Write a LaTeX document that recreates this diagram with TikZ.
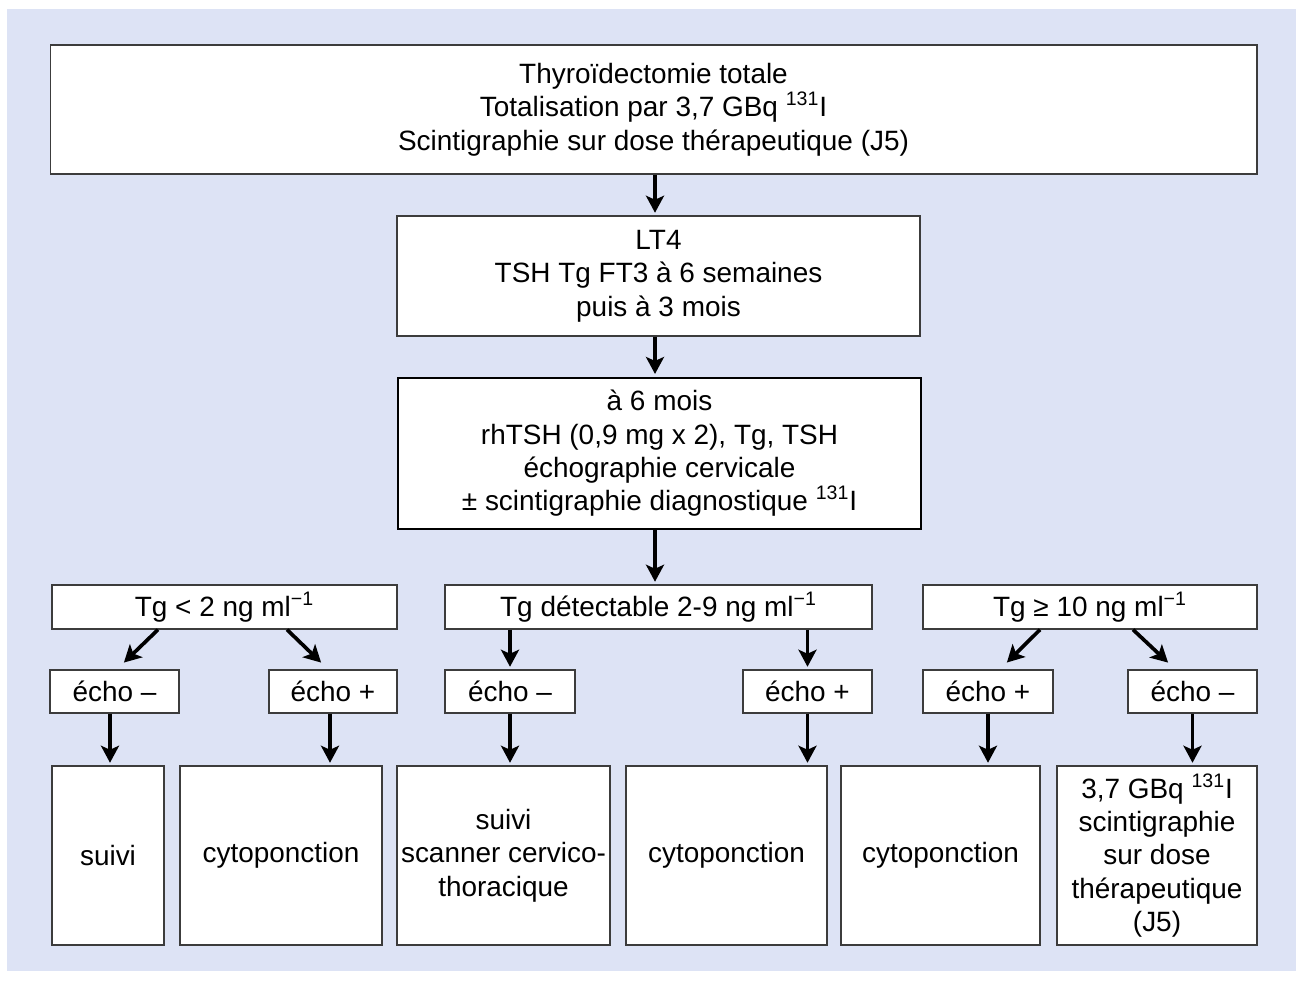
\documentclass[tikz,border=0pt]{standalone}
\usepackage{fontspec}
\setmainfont{Liberation Sans}
\usepackage{xcolor}
\usepackage{tikz}
\usetikzlibrary{arrows.meta, positioning}

\definecolor{bgblue}{RGB}{221,227,245}
\definecolor{edgegray}{RGB}{60,60,60}

\tikzset{
  box/.style={draw=edgegray, line width=0.7pt, fill=white, inner sep=0pt, align=center,
    font=\fontsize{15.9pt}{19pt}\selectfont},
  boldbox/.style={box, draw=black, line width=1.6pt},
  arr/.style={line width=2.1pt, -{Stealth[width=0.36cm, length=0.34cm, inset=0.08cm]}, shorten >=1.5pt}
}

\begin{document}
\begin{tikzpicture}[x=0.02cm, y=-0.02cm]

\useasboundingbox (0,0) rectangle (1304,981);
\fill[bgblue] (7,9) rectangle (1296,971);

% main steps
\node[box, minimum width=24.14cm, minimum height=2.58cm] (chir) at (653.5,109.5)
  {Thyroïdectomie totale\\Totalisation par 3,7 GBq \textsuperscript{131}I\\Scintigraphie sur dose thérapeutique (J5)};
\node[box, minimum width=10.46cm, minimum height=2.4cm] (lt4) at (658.5,276)
  {LT4\\TSH Tg FT3 à 6 semaines\\puis à 3 mois};
\node[boldbox, minimum width=10.46cm, minimum height=3.02cm] (bilan) at (659.5,453.5)
  {à 6 mois\\rhTSH (0,9 mg x 2), Tg, TSH\\échographie cervicale\\± scintigraphie diagnostique \textsuperscript{131}I};

% thyroglobulin levels
\node[box, minimum width=6.9cm, minimum height=0.88cm] (tgbas) at (224.5,607) {Tg < 2 ng ml\textsuperscript{−1}};
\node[box, minimum width=8.54cm, minimum height=0.88cm] (tgdet) at (658.5,607) {Tg détectable 2-9 ng ml\textsuperscript{−1}};
\node[box, minimum width=6.68cm, minimum height=0.88cm] (tghaut) at (1090,607) {Tg ≥ 10 ng ml\textsuperscript{−1}};

% echography results
\node[box, minimum width=2.58cm, minimum height=0.86cm] (echoA) at (114.5,691.5) {écho –};
\node[box, minimum width=2.56cm, minimum height=0.86cm] (echoB) at (333,691.5) {écho +};
\node[box, minimum width=2.6cm, minimum height=0.86cm] (echoC) at (510,691.5) {écho –};
\node[box, minimum width=2.58cm, minimum height=0.86cm] (echoD) at (807.5,691.5) {écho +};
\node[box, minimum width=2.6cm, minimum height=0.86cm] (echoE) at (988,691.5) {écho +};
\node[box, minimum width=2.58cm, minimum height=0.86cm] (echoF) at (1192.5,691.5) {écho –};

% outcomes
\node[box, minimum width=2.24cm, minimum height=3.58cm] (suiviA) at (108,855.5) {suivi};
\node[box, minimum width=4.04cm, minimum height=3.58cm] (cytoA) at (281,855.5) {cytoponction};
\node[box, minimum width=4.26cm, minimum height=3.58cm] (suiviB) at (503.5,855.5) {suivi\\scanner cervico-\\thoracique};
\node[box, minimum width=4.02cm, minimum height=3.58cm] (cytoB) at (726.5,855.5) {cytoponction};
\node[box, minimum width=3.98cm, minimum height=3.58cm] (cytoC) at (940.5,855.5) {cytoponction};
\node[box, minimum width=4.0cm, minimum height=3.58cm] (iode) at (1157,855.5)
  {3,7 GBq \textsuperscript{131}I\\scintigraphie\\sur dose\\thérapeutique\\(J5)};

% arrows
\draw[arr] ([xshift=0.03cm]chir.south) -- ([xshift=0.03cm]chir.south |- lt4.north);
\draw[arr] ([xshift=-0.07cm]lt4.south) -- ([xshift=-0.07cm]lt4.south |- bilan.north);
\draw[arr] ([xshift=-0.09cm]bilan.south) -- ([xshift=-0.09cm]bilan.south |- tgdet.north);

\draw[arr] ([xshift=-1.33cm]tgbas.south) -- ([xshift=0.15cm, yshift=0.1cm]echoA.north);
\draw[arr] ([xshift=1.25cm]tgbas.south) -- ([xshift=-0.2cm, yshift=0.1cm]echoB.north);
\draw[arr] (tgdet.south -| echoC) -- (echoC.north);
\draw[arr] (tgdet.south -| echoD) -- (echoD.north);
\draw[arr] ([xshift=-1.0cm]tghaut.south) -- ([xshift=0.34cm, yshift=0.1cm]echoE.north);
\draw[arr] ([xshift=0.86cm]tghaut.south) -- ([xshift=-0.45cm, yshift=0.1cm]echoF.north);

\draw[arr] ([xshift=-0.09cm]echoA.south) -- ([xshift=-0.09cm]echoA.south |- suiviA.north);
\draw[arr] ([xshift=-0.06cm]echoB.south) -- ([xshift=-0.06cm]echoB.south |- cytoA.north);
\draw[arr] (echoC.south) -- (echoC.south |- suiviB.north);
\draw[arr] (echoD.south) -- (echoD.south |- cytoB.north);
\draw[arr] (echoE.south) -- (echoE.south |- cytoC.north);
\draw[arr] (echoF.south) -- (echoF.south |- iode.north);

\end{tikzpicture}
\end{document}
